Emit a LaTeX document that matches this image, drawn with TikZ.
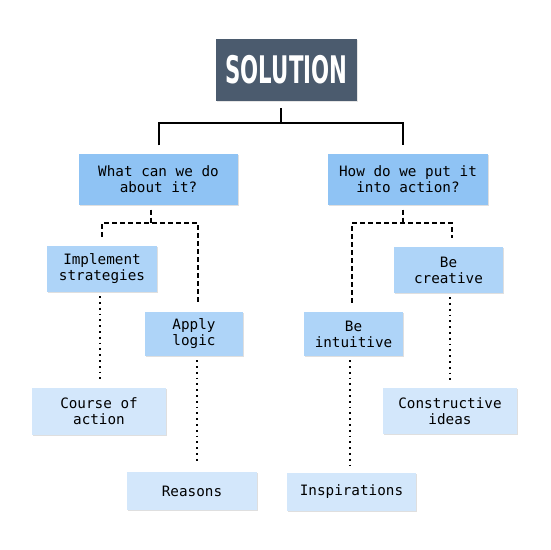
\documentclass[tikz,border=0pt]{standalone}
\usepackage{fontspec}
\usepackage{graphicx}
\usetikzlibrary{shadows}
\newfontfamily\boxfont{DejaVu Sans Mono}
\newfontfamily\titlefont{DejaVu Sans}
\definecolor{titlebg}{HTML}{4B5B6E}
\definecolor{lvlone}{HTML}{8FC3F4}
\definecolor{lvltwo}{HTML}{AED4F8}
\definecolor{lvlthree}{HTML}{D3E7FB}
\tikzset{
  boxbase/.style={rectangle, inner sep=0pt, align=center,
    font=\boxfont\fontsize{14.3}{16}\selectfont,
    drop shadow={shadow xshift=1.2pt, shadow yshift=-1.2pt, opacity=0.25, fill=gray}},
  lone/.style={boxbase, fill=lvlone},
  ltwo/.style={boxbase, fill=lvltwo},
  lthree/.style={boxbase, fill=lvlthree},
  solidconn/.style={draw=black, line width=2pt},
  dashconn/.style={draw=black, line width=1.5pt, dash pattern=on 5pt off 3pt},
  dotconn/.style={draw=black, line width=1.8pt, dash pattern=on 1.8pt off 4pt}
}
\begin{document}
\begin{tikzpicture}[x=1pt,y=-1pt]
\useasboundingbox[fill=white] (0,0) rectangle (550,550);
% title
\node[rectangle, fill=titlebg, minimum width=141pt, minimum height=62pt, inner sep=0pt,
  drop shadow={shadow xshift=1.2pt, shadow yshift=-1.2pt, opacity=0.2, fill=gray}]
  (sol) at (286.5,70) {\scalebox{0.56}[1]{\titlefont\bfseries\fontsize{38}{40}\selectfont\color{white}SOLUTION}};
% level 1
\node[lone, minimum width=159pt, minimum height=51pt] (q1) at (158.5,179) {What can we do\\about it?};
\node[lone, minimum width=160pt, minimum height=51pt] (q2) at (408,179) {How do we put it\\into action?};
% level 2
\node[ltwo, minimum width=110pt, minimum height=46pt] (s1) at (102,269) {Implement\\strategies};
\node[ltwo, minimum width=98pt, minimum height=44pt] (s2) at (194,334) {Apply\\logic};
\node[ltwo, minimum width=99pt, minimum height=44pt] (s3) at (353.5,334) {Be\\intuitive};
\node[ltwo, minimum width=109pt, minimum height=46pt] (s4) at (448.5,270) {Be\\creative};
% level 3
\node[lthree, minimum width=134pt, minimum height=47pt] (t1) at (99,411.5) {Course of\\action};
\node[lthree, minimum width=130pt, minimum height=38pt] (t2) at (192,491) {Reasons};
\node[lthree, minimum width=129pt, minimum height=38pt] (t3) at (351.5,492) {Inspirations};
\node[lthree, minimum width=134pt, minimum height=46pt] (t4) at (450,411) {Constructive\\ideas};
% solid tree
\coordinate (j0) at (281,123);
\draw[solidconn, shorten <=7pt] (sol.south -| j0) -- (j0);
\draw[solidconn, shorten <=8pt, shorten >=8pt] (q1.north) |- (j0) -| ([xshift=-5pt]q2.north);
% dashed trees
\coordinate (j1) at (151,223);
\draw[dashconn, shorten <=5pt] (q1.south -| j1) -- (j1);
\draw[dashconn, shorten <=9pt, shorten >=9pt] (s1.north) |- (j1) -| ([xshift=4pt]s2.north);
\coordinate (j2) at (403,223);
\draw[dashconn, shorten <=5pt] (q2.south -| j2) -- (j2);
\draw[dashconn, shorten <=9pt, shorten >=9pt] ([xshift=-1.5pt]s3.north) |- (j2) -| ([xshift=3.5pt]s4.north);
% dotted
\draw[dotconn, shorten <=4pt, shorten >=8pt] ([xshift=-2pt]s1.south) -- ([xshift=-2pt]s1.south |- t1.north);
\draw[dotconn, shorten <=4pt, shorten >=8pt] ([xshift=3pt]s2.south) -- ([xshift=3pt]s2.south |- t2.north);
\draw[dotconn, shorten <=4pt, shorten >=8pt] ([xshift=-3.5pt]s3.south) -- ([xshift=-3.5pt]s3.south |- t3.north);
\draw[dotconn, shorten <=4pt, shorten >=8pt] ([xshift=1.5pt]s4.south) -- ([xshift=1.5pt]s4.south |- t4.north);
\end{tikzpicture}
\end{document}
